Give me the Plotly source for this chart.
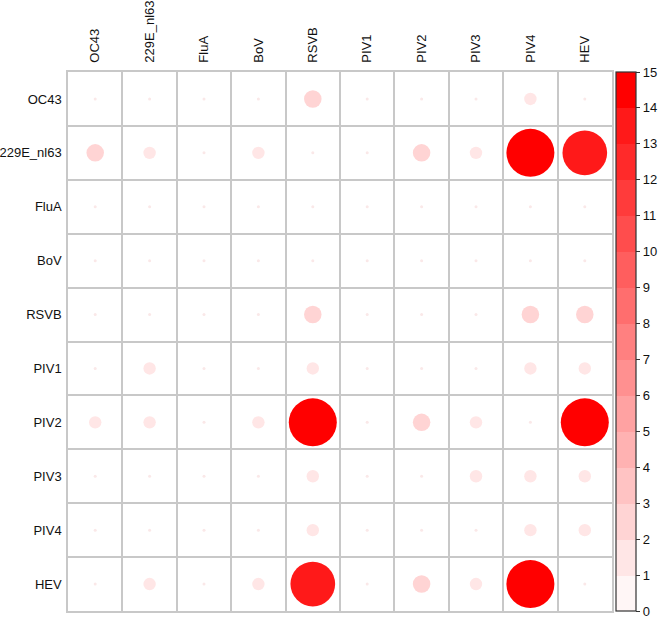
import plotly.graph_objects as go

categories = ["OC43", "229E_nl63", "FluA", "BoV", "RSVB", "PIV1", "PIV2", "PIV3", "PIV4", "HEV"]

row_OC43 = [0, 0, 0, 0, 2, 0, 0, 0, 1, 0]
row_229E_nl63 = [2, 1, 0, 1, 0, 0, 2, 1, 15, 13]
row_FluA = [0, 0, 0, 0, 0, 0, 0, 0, 0, 0]
row_BoV = [0, 0, 0, 0, 0, 0, 0, 0, 0, 0]
row_RSVB = [0, 0, 0, 0, 2, 0, 0, 0, 2, 2]
row_PIV1 = [0, 1, 0, 0, 1, 0, 0, 0, 1, 1]
row_PIV2 = [1, 1, 0, 1, 15, 0, 2, 1, 0, 15]
row_PIV3 = [0, 0, 0, 0, 1, 0, 0, 1, 1, 1]
row_PIV4 = [0, 0, 0, 0, 1, 0, 0, 0, 1, 1]
row_HEV = [0, 1, 0, 1, 13, 0, 2, 1, 15, 0]

rows = [row_OC43, row_229E_nl63, row_FluA, row_BoV, row_RSVB,
        row_PIV1, row_PIV2, row_PIV3, row_PIV4, row_HEV]

colorbar_ticks = list(range(0, 16))

vmax = 15
nb = 15
eps = 0.001


def band_color(k):
    f = (k + 0.5) / nb
    g = int(round(255 * (1 - f)))
    if k == nb - 1:
        g = 0
    return f"rgb(255,{g},{g})"


colorscale = []
for k in range(nb):
    lo = max(0.0, k / nb - eps)
    hi = 1.0 if k == nb - 1 else (k + 1) / nb - eps
    colorscale.append([lo, band_color(k)])
    colorscale.append([hi, band_color(k)])

xs, ys, vs = [], [], []
zx, zy = [], []
for r, vals in enumerate(rows):
    for c, v in enumerate(vals):
        if v > 0:
            xs.append(c)
            ys.append(r)
            vs.append(v)
        else:
            zx.append(c)
            zy.append(r)

maxd = 48
# plotly area mode: diameter = 2*sqrt(v/(2*sizeref))
sizeref = vmax / (2 * (maxd / 2) ** 2)

font_family = "Liberation Sans, Arial, sans-serif"

fig = go.Figure()
fig.add_trace(go.Scatter(
    x=zx, y=zy, mode="markers",
    marker=dict(size=3, color="rgb(250,232,232)", line=dict(width=0)),
    hoverinfo="skip", showlegend=False,
))
fig.add_trace(go.Scatter(
    x=xs, y=ys, mode="markers",
    marker=dict(
        size=vs, sizemode="area", sizeref=sizeref, sizemin=3,
        color=vs, colorscale=colorscale, cmin=0, cmax=vmax,
        line=dict(width=0),
        opacity=1,
        colorbar=dict(
            x=1.0074, xanchor="left", xpad=0,
            y=1, yanchor="top", len=1, lenmode="fraction",
            ypad=0,
            thickness=20,
            outlinecolor="#333333", outlinewidth=1.2,
            tickmode="array", tickvals=colorbar_ticks,
            ticktext=[str(t) for t in colorbar_ticks],
            ticks="outside", ticklen=4, tickcolor="#333333",
            tickfont=dict(family=font_family, size=13, color="#111111"),
        ),
    ),
    hoverinfo="skip",
    showlegend=False,
))

half = [i - 0.5 for i in range(11)]
axis_common = dict(
    tickmode="array",
    tickvals=list(range(10)),
    ticktext=categories,
    showgrid=False,
    zeroline=False,
    automargin=False,
    showline=True, mirror=True, linecolor="#c8c8c8", linewidth=1.5,
    ticks="",
    tickfont=dict(family=font_family, size=13, color="#111111"),
    minor=dict(tickvals=half, showgrid=True, gridcolor="#c8c8c8", gridwidth=1.5, ticks=""),
)

fig.update_layout(
    width=662, height=619,
    margin=dict(l=68, r=50, t=72, b=8, autoexpand=False),
    paper_bgcolor="white",
    plot_bgcolor="white",
    xaxis=dict(axis_common, range=[-0.5, 9.5], side="top", tickangle=-90, ticklabelstandoff=5),
    yaxis=dict(axis_common, range=[9.5, -0.5], ticklabelstandoff=2),
)

fig.write_html(
    "out.html",
    config={"displayModeBar": False},
    post_script="document.body.style.margin='0';document.body.style.padding='0';",
)
